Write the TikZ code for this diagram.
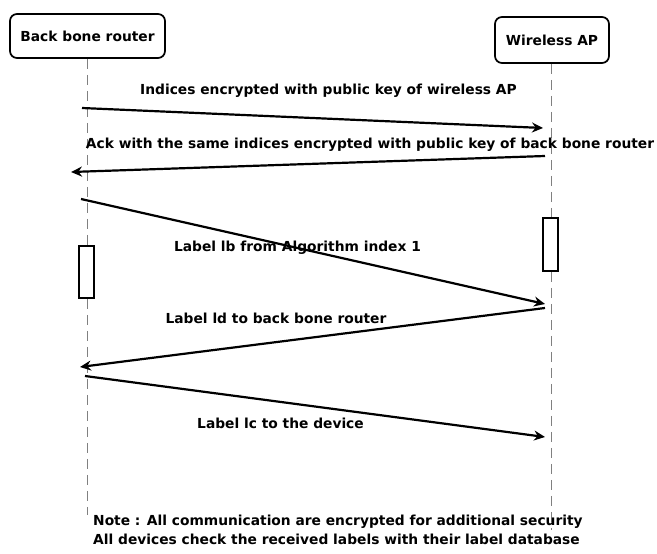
\documentclass[tikz,border=0pt]{standalone}
\usepackage{fontspec}
\setmainfont{DejaVu Sans}
\usetikzlibrary{arrows.meta}
\begin{document}
\begin{tikzpicture}[x=1pt,y=-1pt,
  actor/.style={draw,line width=1.7pt,rounded corners=7pt,font=\bfseries\fontsize{13.8}{16}\selectfont,minimum height=44pt,inner xsep=4pt},
  life/.style={draw=gray,line width=0.9pt,dash pattern=on 10pt off 6pt},
  act/.style={draw,line width=2pt,fill=white},
  msg/.style={line width=2.2pt,-{Stealth[length=11pt,width=10pt]}},
  lbl/.style={font=\bfseries\fontsize{13.8}{16}\selectfont,inner sep=0pt}]
\useasboundingbox (0,0) rectangle (657,554);
% participants
\node[actor,minimum width=155pt] (bb) at (87.5,36) {Back bone router};
\node[actor,minimum width=114pt,minimum height=46pt] (ap) at (552,40) {Wireless AP};
% lifelines
\coordinate (bbend) at (87.5,515);
\coordinate (apend) at (551,530);
\draw[life] (bb.south) -- (bbend);
\draw[life] (ap.south -| 551,0) -- (apend);
% activation bars
\node[act,minimum width=15pt,minimum height=52pt,inner sep=0pt] (actl) at (86.5,272) {};
\node[act,minimum width=15pt,minimum height=53pt,inner sep=0pt] (actr) at (550.5,244.5) {};
% message end points
\coordinate (m1s) at (82,108);  \coordinate (m1e) at (543,128);
\coordinate (m2s) at (545,156); \coordinate (m2e) at (71,172);
\coordinate (m3s) at (81,199);  \coordinate (m3e) at (545,304);
\coordinate (m4s) at (545,308); \coordinate (m4e) at (80,367);
\coordinate (m5s) at (85,376);  \coordinate (m5e) at (545,437);
% messages
\draw[msg] (m1s) -- (m1e);
\draw[msg] (m2s) -- (m2e);
\draw[msg] (m3s) -- (m3e);
\draw[msg] (m4s) -- (m4e);
\draw[msg] (m5s) -- (m5e);
% message labels
\node[lbl] (l1) at (328.5,91) {Indices encrypted with public key of wireless AP};
\node[lbl] (l2) at (370,145) {Ack with the same indices encrypted with public key of back bone router};
\node[lbl] (l3) at (297.5,248) {Label lb from Algorithm index 1};
\node[lbl] (l4) at (276,318) {Label ld to back bone router};
\node[lbl] (l5) at (280.5,423) {Label lc to the device};
% note
\node[lbl,align=left,anchor=north west,font=\bfseries\fontsize{13.8}{18.5}\selectfont] (note) at (93,515)
  {Note : All communication are encrypted for additional security\\All devices check the received labels with their label database};
\end{tikzpicture}
\end{document}
